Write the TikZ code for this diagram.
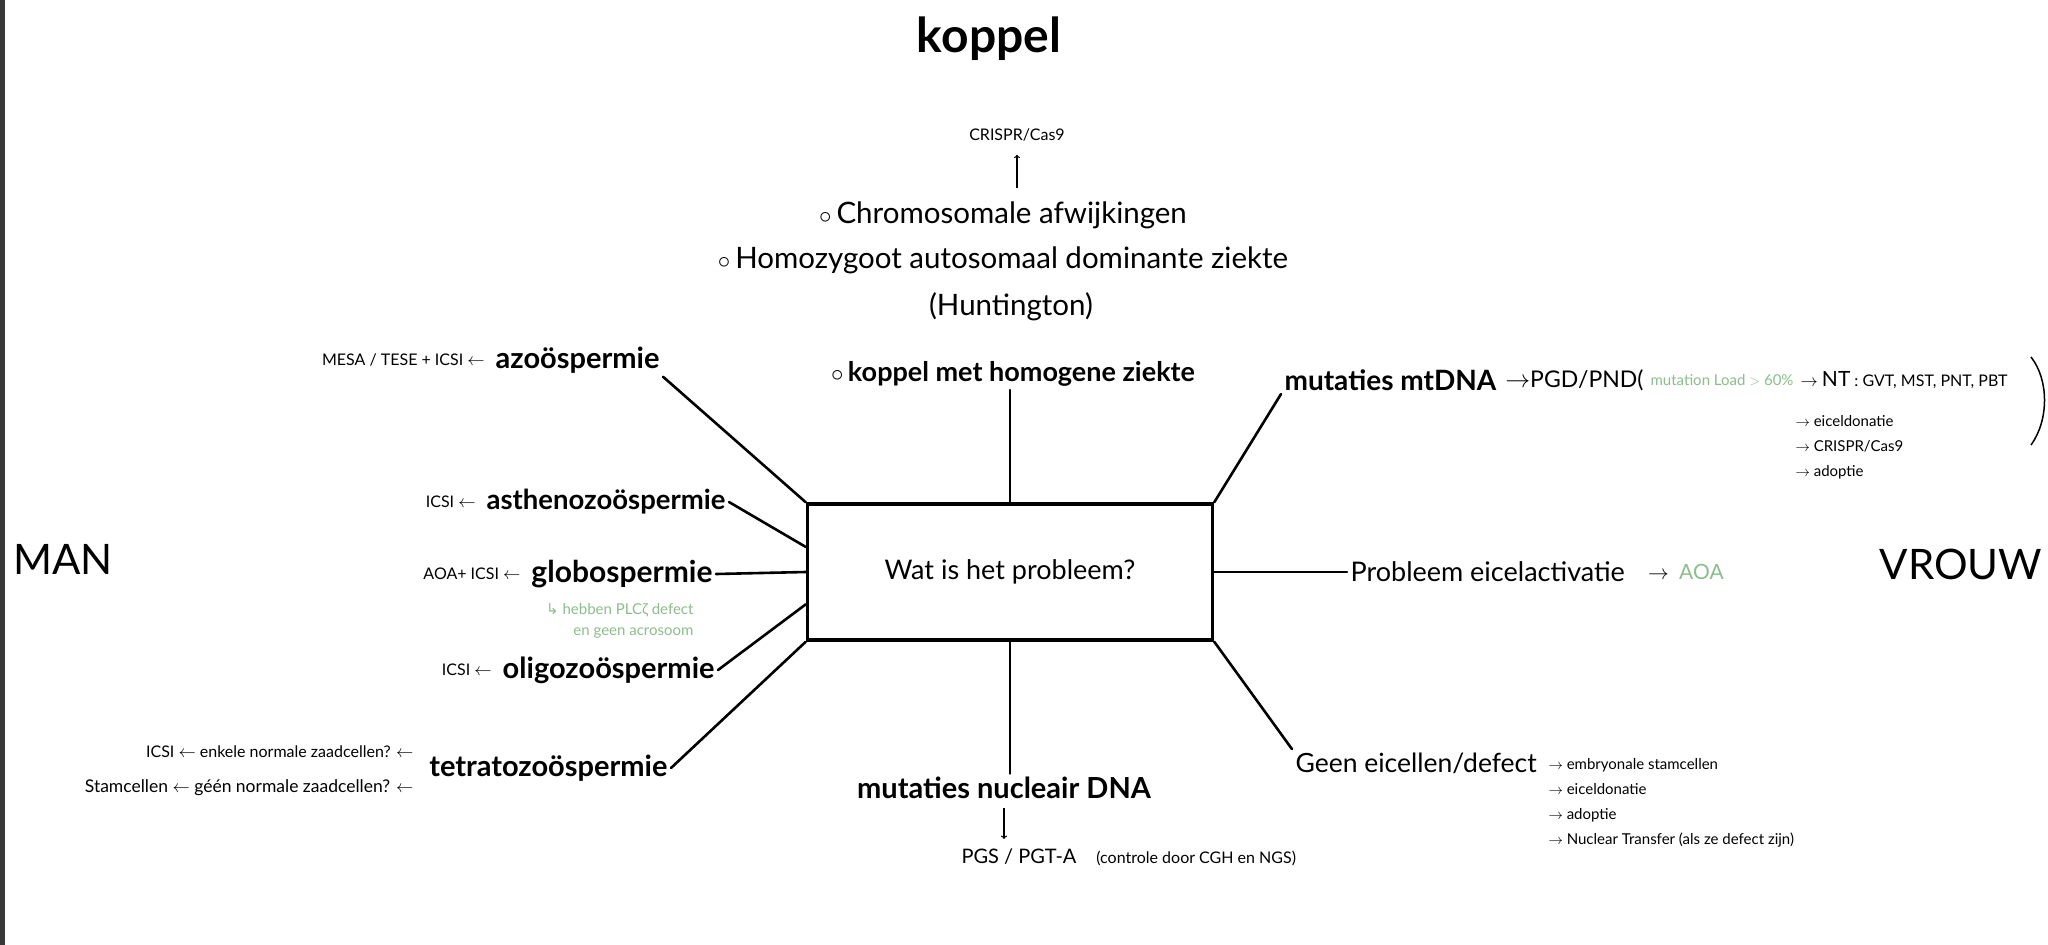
\documentclass[tikz,border=0pt]{standalone}
\usepackage{fontspec}
\setmainfont{Lato}
\newfontfamily\arw{DejaVu Sans}
\usetikzlibrary{positioning}
\definecolor{notegreen}{RGB}{140,190,140}
\definecolor{edgegray}{RGB}{55,55,55}
\newcommand{\sz}[2]{\fontsize{#1}{#2}\selectfont}

\begin{document}
\begin{tikzpicture}[x=1pt,y=-1pt,>=To,
    link/.style={line width=2.6pt,line cap=round},
    branch/.style={font=\bfseries\sz{29}{34}},
    plain/.style={font=\sz{29.5}{34}},
    small/.style={font=\sz{16}{20}},
    note/.style={font=\sz{15}{21},text=notegreen},
    side/.style={font=\sz{42}{48}}]
    \useasboundingbox (0,0) rectangle (2048,945);
    \fill[white] (0,0) rectangle (2048,945);
    \fill[edgegray] (0,0) rectangle (5,945);
    % central question
    \node[draw,line width=3.5pt,minimum width=405pt,minimum height=136pt,font=\sz{27}{30}] (box) at (1010,572) {Wat is het probleem?};
    % top: koppel
    \node[font=\bfseries\sz{48}{50}] (koppel) at (989,39) {koppel};
    \node[small] (crispr) at (1017,135) {CRISPR/Cas9};
    \node[plain] (chrom) at (1003,215) {$\circ$\,Chromosomale afwijkingen};
    \node[plain] (homo) at (1003,260) {$\circ$\,Homozygoot autosomaal dominante ziekte};
    \node[plain] (hunt) at (1011,307) {(Huntington)};
    \node[branch,font=\bfseries\sz{27}{32}] (kop) at (1013,374) {$\circ$\,koppel met homogene ziekte};
    \draw[->,line width=1.2pt,shorten <=10pt,shorten >=10pt] (crispr.south |- chrom.north) -- (crispr.south);
    % right: vrouw
    \node[side] (vrouw) at (1961,564) {VROUW};
    \node[branch,font=\bfseries\sz{28}{32},anchor=west] (mtdna) at (1281,380) {mutaties mtDNA};
    \node[font=\sz{23}{26},right=2pt of mtdna] (pgd) {$\rightarrow$PGD/PND(};
    \node[note,right=0pt of pgd] (load) {mutation Load $>$ 60\%};
    \node[small,right=0pt of load] (nt) {$\rightarrow$ {\sz{21}{24}NT} : GVT, MST, PNT, PBT};
    \node[font=\sz{15}{25},anchor=north west,align=left] (mtlist) at (1792,412) {$\rightarrow$ eiceldonatie\\$\rightarrow$ CRISPR/Cas9\\$\rightarrow$ adoptie};
    \draw[line width=1.5pt] (2031,357) .. controls (2049,380) and (2049,420) .. (2031,445);
    \node[plain,font=\sz{27}{30},anchor=west] (eicel) at (1347,572) {Probleem eicelactivatie};
    \node[font=\sz{21}{24},right=16pt of eicel] (aoa) {$\rightarrow$\enspace\textcolor{notegreen}{AOA}};
    \node[plain,font=\sz{26.5}{30},anchor=west] (geen) at (1292,763) {Geen eicellen/defect};
    \node[font=\sz{15}{25},anchor=north west,align=left] (geenlist) at (1545,755) {$\rightarrow$ embryonale stamcellen\\$\rightarrow$ eiceldonatie\\$\rightarrow$ adoptie\\$\rightarrow$ Nuclear Transfer (als ze defect zijn)};
    % bottom
    \node[branch] (nucl) at (1004,788) {mutaties nucleair DNA};
    \node[font=\sz{20}{24},anchor=west] (pgs) at (958,857) {PGS / PGT-A\quad{\sz{16}{18}(controle door CGH en NGS)}};
    \draw[->,line width=1.2pt,shorten <=6pt,shorten >=6pt] (nucl.south) -- (nucl.south |- pgs.north);
    % left: man
    \node[side] (man) at (63,559) {MAN};
    \node[branch,anchor=east] (azo) at (663,360) {azoöspermie};
    \node[small,left=4pt of azo] (mesa) {MESA / TESE + ICSI $\leftarrow$};
    \node[branch,font=\bfseries\sz{27.5}{32},anchor=east] (asth) at (729,502) {asthenozoöspermie};
    \node[small,left=4pt of asth] (asthicsi) {ICSI $\leftarrow$};
    \node[branch,font=\bfseries\sz{30}{34},anchor=east] (glob) at (716,574) {globospermie};
    \node[small,left=4pt of glob] (globicsi) {AOA+ ICSI $\leftarrow$};
    \node[note,align=right,anchor=north east] (globnote) at (697,600) {{\arw ↳} hebben PLCζ defect\\en geen acrosoom};
    \node[branch,anchor=east] (oligo) at (718,670) {oligozoöspermie};
    \node[small,left=4pt of oligo] (oligoicsi) {ICSI $\leftarrow$};
    \node[branch,anchor=east] (tetra) at (671,768) {tetratozoöspermie};
    \node[font=\sz{16}{35},anchor=east,align=right] (tetranote) at (417,771) {ICSI $\leftarrow$ enkele normale zaadcellen? $\leftarrow$\\{\sz{17.5}{35}Stamcellen $\leftarrow$ géén normale zaadcellen? $\leftarrow$}};
    % connectors from the question
    \draw[link] (box.north) -- (box.north |- kop.south);
    \draw[link] (box.south) -- (box.south |- nucl.north);
    \draw[link] (box.north east) -- (mtdna.south west);
    \draw[link] (box.east) -- (eicel.west);
    \draw[link] (box.south east) -- (geen.north west);
    \draw[link] (box.north west) -- (azo.south east);
    \draw[link] (box.173) -- (asth.east);
    \draw[link] (box.west) -- (glob.east);
    \draw[link] (box.189) -- (oligo.east);
    \draw[link] (box.south west) -- (tetra.east);
\end{tikzpicture}
\end{document}
